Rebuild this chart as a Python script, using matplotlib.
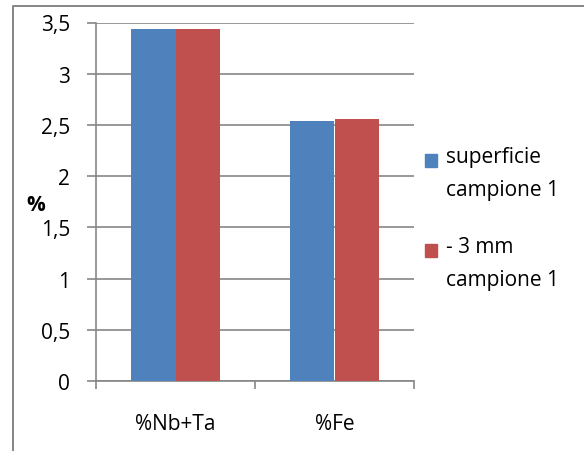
import matplotlib
matplotlib.use("Agg")
import matplotlib.pyplot as plt
from matplotlib.lines import Line2D
from matplotlib.patches import Rectangle

# data
categories = ["%Nb+Ta", "%Fe"]
series_names = ["superficie\ncampione 1", "- 3 mm\ncampione 1"]
superficie = [3.44, 2.54]
meno_3mm = [3.44, 2.56]
y_ticks = [0, 0.5, 1, 1.5, 2, 2.5, 3, 3.5]
y_tick_labels = ["0", "0,5", "1", "1,5", "2", "2,5", "3", "3,5"]

colors = ["#4F81BD", "#C0504D"]
grid_col = "#868686"
fs = 15

plt.rcParams["font.family"] = ["Open Sans", "DejaVu Sans"]

W, H = 584, 452
fig = plt.figure(figsize=(W / 100, H / 100), dpi=100)
ax = fig.add_axes([96 / W, (H - 382) / H, (414 - 96) / W, (382 - 23.5) / H])

bw = 0.283
x = list(range(len(categories)))
for i, vals in enumerate([superficie, meno_3mm]):
    pos = [xi + (i - 0.5) * bw for xi in x]
    ax.bar(pos, vals, width=bw, color=colors[i], linewidth=0, zorder=3)

ax.set_xlim(-0.5, len(categories) - 0.5)
ax.set_ylim(0, 3.5)

ax.set_yticks(y_ticks)
ax.set_yticklabels(y_tick_labels)
ax.yaxis.grid(True, color=grid_col, linewidth=1.2, zorder=0)
ax.set_axisbelow(True)

# category boundaries get tick marks, labels sit at the centres
ax.set_xticks([i - 0.5 for i in range(len(categories) + 1)])
ax.set_xticklabels([])
ax.set_xticks(x, minor=True)
ax.set_xticklabels(categories, minor=True)

ax.tick_params(axis="y", direction="out", length=6.5, width=1.2, color=grid_col,
               pad=12, labelsize=fs)
ax.tick_params(axis="x", which="major", direction="out", length=6, width=1.2,
               color=grid_col)
ax.tick_params(axis="x", which="minor", length=0, pad=23, labelsize=fs)

for side in ["top", "right"]:
    ax.spines[side].set_visible(False)
for side in ["left", "bottom"]:
    ax.spines[side].set_color(grid_col)
    ax.spines[side].set_linewidth(1.2)

fig.text(36 / W, 1 - 206 / H, "%", fontsize=fs, fontweight="bold",
         ha="center", va="center")

# legend
for i, name in enumerate(series_names):
    top = 155 + i * 90
    fig.add_artist(Rectangle((425 / W, 1 - (top + 12.5) / H), 12 / W, 12.5 / H,
                             transform=fig.transFigure, color=colors[i]))
    fig.text(446 / W, 1 - (top - 8) / H, name, fontsize=fs, ha="left", va="top",
             linespacing=1.75)

# chart frame
fig.add_artist(Line2D([13 / W, 13 / W, 1.0], [0.0, 1 - 6.5 / H, 1 - 6.5 / H],
                      transform=fig.transFigure, color=grid_col, linewidth=1.4))

fig.savefig("out.png", dpi=100)
